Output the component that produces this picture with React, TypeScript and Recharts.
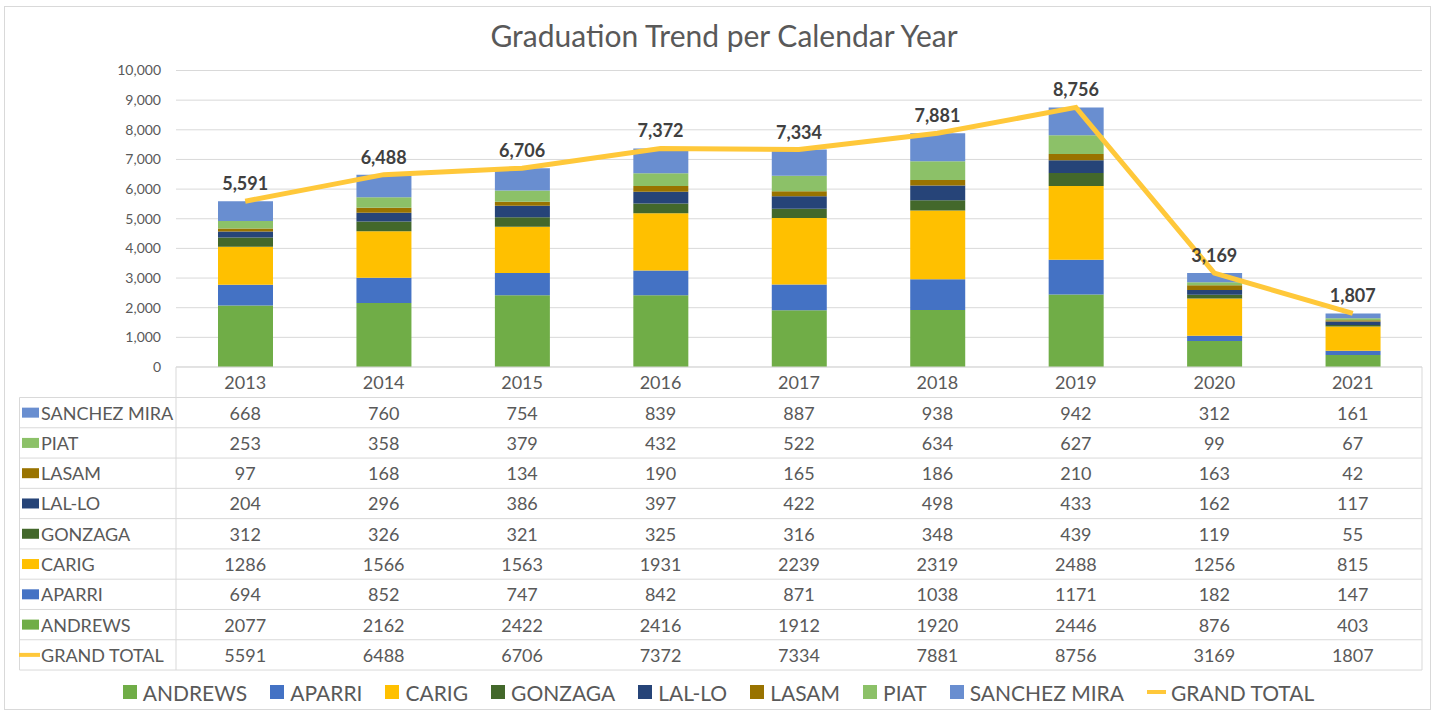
import React from 'react';
import { ComposedChart, Bar, Line, XAxis, YAxis, CartesianGrid, LabelList } from 'recharts';

const years = ['2013', '2014', '2015', '2016', '2017', '2018', '2019', '2020', '2021'];

const andrews = [2077, 2162, 2422, 2416, 1912, 1920, 2446, 876, 403];
const aparri = [694, 852, 747, 842, 871, 1038, 1171, 182, 147];
const carig = [1286, 1566, 1563, 1931, 2239, 2319, 2488, 1256, 815];
const gonzaga = [312, 326, 321, 325, 316, 348, 439, 119, 55];
const lalLo = [204, 296, 386, 397, 422, 498, 433, 162, 117];
const lasam = [97, 168, 134, 190, 165, 186, 210, 163, 42];
const piat = [253, 358, 379, 432, 522, 634, 627, 99, 67];
const sanchezMira = [668, 760, 754, 839, 887, 938, 942, 312, 161];
const grandTotal = [5591, 6488, 6706, 7372, 7334, 7881, 8756, 3169, 1807];

const yTicks = [0, 1000, 2000, 3000, 4000, 5000, 6000, 7000, 8000, 9000, 10000];

// stacking order, bottom to top
const campuses = [
  { key: 'andrews', name: 'ANDREWS', values: andrews, color: '#70AD47' },
  { key: 'aparri', name: 'APARRI', values: aparri, color: '#4472C4' },
  { key: 'carig', name: 'CARIG', values: carig, color: '#FFC000' },
  { key: 'gonzaga', name: 'GONZAGA', values: gonzaga, color: '#43682B' },
  { key: 'lalLo', name: 'LAL-LO', values: lalLo, color: '#264478' },
  { key: 'lasam', name: 'LASAM', values: lasam, color: '#997300' },
  { key: 'piat', name: 'PIAT', values: piat, color: '#8CC168' },
  { key: 'sanchezMira', name: 'SANCHEZ MIRA', values: sanchezMira, color: '#698ED0' },
];
const LINE_COLOR = '#FFC83A';

const data = years.map((year, i) => {
  const row: Record<string, any> = { year, grandTotal: grandTotal[i] };
  campuses.forEach(c => { row[c.key] = c.values[i]; });
  return row;
});

// data table rows, top to bottom (as in the reference)
const tableRows = [
  ...[...campuses].reverse().map(c => ({ name: c.name, values: c.values, color: c.color, line: false })),
  { name: 'GRAND TOTAL', values: grandTotal, color: LINE_COLOR, line: true },
];

const FONT = "Lato, 'Open Sans', sans-serif";
const TEXT = '#595959';
const GRID = '#D9D9D9';
const W = 1437;
const H = 713;
const PLOT_LEFT = 176;
const PLOT_RIGHT = 1422;
const PLOT_TOP = 70.5;
const PLOT_BOTTOM = 367;
const TABLE_TOP = 397.5;
const ROW_H = 30.28;
const TABLE_LEFT = 19.5;

const fmt = (v: any) => Number(v).toLocaleString('en-US');

// x-axis tick that also draws the table column under the year
const TableTick = (props: any) => {
  const { x, y, payload } = props;
  const i = years.indexOf(String(payload.value));
  return (
    <g>
      <text x={x} y={y + 15} textAnchor="middle" dominantBaseline="central" fontSize={18} fill={TEXT} fontFamily={FONT}>
        {payload.value}
      </text>
      {tableRows.map((r, ri) => (
        <text
          key={r.name}
          x={x}
          y={y + (TABLE_TOP - PLOT_BOTTOM) + ri * ROW_H + ROW_H / 2}
          textAnchor="middle"
          dominantBaseline="central"
          fontSize={18}
          fill={TEXT}
          fontFamily={FONT}
        >
          {r.values[i]}
        </text>
      ))}
    </g>
  );
};

function TableFrame() {
  const bottom = TABLE_TOP + ROW_H * tableRows.length;
  return (
    <svg width={W} height={H} style={{ position: 'absolute', left: 0, top: 0, pointerEvents: 'none' }}>
      <line x1={PLOT_LEFT} y1={PLOT_BOTTOM} x2={PLOT_LEFT} y2={bottom} stroke={GRID} />
      <line x1={PLOT_RIGHT} y1={PLOT_BOTTOM} x2={PLOT_RIGHT} y2={bottom} stroke={GRID} />
      <line x1={TABLE_LEFT} y1={TABLE_TOP} x2={TABLE_LEFT} y2={bottom} stroke={GRID} />
      {tableRows.map((r, ri) => (
        <line key={'l' + ri} x1={TABLE_LEFT} y1={TABLE_TOP + ri * ROW_H} x2={PLOT_RIGHT} y2={TABLE_TOP + ri * ROW_H} stroke={GRID} />
      ))}
      <line x1={TABLE_LEFT} y1={bottom} x2={PLOT_RIGHT} y2={bottom} stroke={GRID} />
      {tableRows.map((r, ri) => {
        const cy = TABLE_TOP + ri * ROW_H + ROW_H / 2;
        return (
          <g key={r.name}>
            {r.line ? (
              <line x1={19} y1={cy} x2={40} y2={cy} stroke={r.color} strokeWidth={4} />
            ) : (
              <rect x={22} y={cy - 5} width={17} height={10} fill={r.color} />
            )}
            <text x={41} y={cy} dominantBaseline="central" fontSize={18} fill={TEXT} fontFamily={FONT}>
              {r.name}
            </text>
          </g>
        );
      })}
    </svg>
  );
}

function BottomLegend() {
  const items = [...campuses.map(c => ({ name: c.name, color: c.color, line: false })), { name: 'GRAND TOTAL', color: LINE_COLOR, line: true }];
  return (
    <div
      style={{
        position: 'absolute', left: 0, top: 680, width: W, height: 24,
        display: 'flex', justifyContent: 'center', alignItems: 'center', gap: 23,
        fontFamily: FONT, fontSize: 21, color: TEXT,
      }}
    >
      {items.map(it => (
        <div key={it.name} style={{ display: 'flex', alignItems: 'center' }}>
          {it.line ? (
            <span style={{ display: 'inline-block', width: 19, height: 4, background: it.color, marginRight: 5 }} />
          ) : (
            <span style={{ display: 'inline-block', width: 14, height: 14, background: it.color, marginRight: 6 }} />
          )}
          <span>{it.name}</span>
        </div>
      ))}
    </div>
  );
}

export default function App() {
  return (
    <div style={{ position: 'absolute', left: 0, top: 0, width: W, height: H, background: '#fff', overflow: 'hidden' }}>
      <div style={{ position: 'absolute', left: 4, top: 6, width: 1427, height: 704, border: '1px solid #D9D9D9', boxSizing: 'border-box' }} />
      <div
        style={{
          position: 'absolute', left: 0, top: 17, width: 1448, textAlign: 'center',
          fontFamily: FONT, fontSize: 30, color: TEXT, lineHeight: '36px',
        }}
      >
        Graduation Trend per Calendar Year
      </div>
      <div style={{ position: 'absolute', left: 0, top: 0 }}>
        <ComposedChart
          width={W}
          height={H}
          data={data}
          margin={{ top: PLOT_TOP, right: W - PLOT_RIGHT, left: PLOT_LEFT - 60, bottom: 0 }}
        >
          <CartesianGrid vertical={false} stroke={GRID} />
          <XAxis
            dataKey="year"
            height={H - PLOT_BOTTOM}
            interval={0}
            tickLine={false}
            tickSize={0}
            tickMargin={0}
            axisLine={{ stroke: GRID }}
            tick={<TableTick />}
          />
          <YAxis
            width={60}
            domain={[0, 10000]}
            ticks={yTicks}
            tickFormatter={fmt}
            axisLine={false}
            tickLine={false}
            tickMargin={9}
            tick={{ fontSize: 14, fill: TEXT, fontFamily: FONT }}
          />
          {campuses.map(c => (
            <Bar key={c.key} dataKey={c.key} name={c.name} stackId="a" fill={c.color} barSize={55} isAnimationActive={false} />
          ))}
          <Line
            dataKey="grandTotal"
            name="GRAND TOTAL"
            stroke={LINE_COLOR}
            strokeWidth={5}
            dot={false}
            type="linear"
            isAnimationActive={false}
          >
            <LabelList
              dataKey="grandTotal"
              position="top"
              offset={11}
              formatter={fmt}
              style={{ fontSize: 18, fontWeight: 700, fill: '#404040', fontFamily: FONT }}
            />
          </Line>
        </ComposedChart>
      </div>
      <TableFrame />
      <BottomLegend />
    </div>
  );
}
